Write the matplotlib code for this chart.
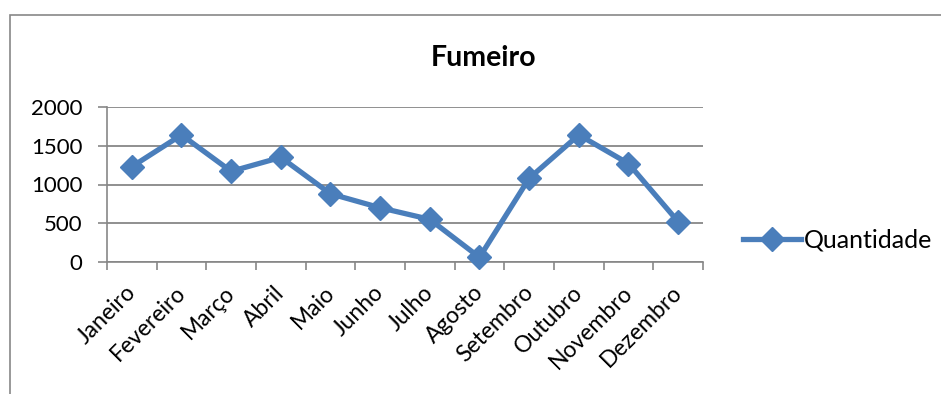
import matplotlib
matplotlib.use("Agg")
import matplotlib.pyplot as plt
from matplotlib.patches import Rectangle
from matplotlib.transforms import ScaledTranslation
import numpy as np

months = ["Janeiro", "Fevereiro", "Março", "Abril", "Maio", "Junho",
          "Julho", "Agosto", "Setembro", "Outubro", "Novembro", "Dezembro"]
quantidade = [1230, 1640, 1170, 1350, 880, 700, 550, 60, 1080, 1640, 1270, 520]
y_ticks = [0, 500, 1000, 1500, 2000]

plt.rcParams["font.family"] = ["Lato", "DejaVu Sans"]

W, H = 941, 394
DPI = 100
fig = plt.figure(figsize=(W / DPI, H / DPI), dpi=DPI)

# chart-area frame
fig.patches.append(Rectangle((10 / W, -0.1), 1.2, 1 - 15 / H + 0.1,
                             transform=fig.transFigure, fill=False,
                             edgecolor="#878787", linewidth=1.2))

ax = fig.add_axes([107 / W, 1 - 262 / H, (703 - 107) / W, (262 - 107) / H])
x = np.arange(len(months))
blue = "#4A7EBB"
ax.plot(x, quantidade, color=blue, linewidth=3.8, marker="D", markersize=12,
        label="Quantidade", zorder=3, clip_on=False)

ax.set_xlim(-0.5, len(months) - 0.5)
ax.set_ylim(0, 2000)
ax.set_yticks(y_ticks)
ax.set_yticklabels([str(v) for v in y_ticks], fontsize=16)
ax.yaxis.grid(True, color="#878787", linewidth=1.3)
ax.set_axisbelow(True)

# category boundaries get the tick marks; names sit at the centres
ax.set_xticks(np.arange(len(months) + 1) - 0.5)
ax.set_xticklabels([])
ax.tick_params(axis="x", length=5.5, width=1.2, color="#878787")
ax.tick_params(axis="y", length=6.5, width=1.2, color="#878787", pad=11)

label_trans = ax.get_xaxis_transform() + ScaledTranslation(
    -7 / DPI, -20 / DPI, fig.dpi_scale_trans)
for xi, name in zip(x, months):
    ax.text(xi, 0, name, transform=label_trans, rotation=45, ha="right",
            va="top", rotation_mode="anchor", fontsize=16.5)

for side in ["top", "right"]:
    ax.spines[side].set_visible(False)
ax.spines["left"].set_color("#878787")
ax.spines["bottom"].set_color("#878787")
ax.spines["left"].set_linewidth(1.2)
ax.spines["bottom"].set_linewidth(1.2)

fig.text(484 / W, 1 - 58 / H, "Fumeiro", ha="center", va="center",
         fontsize=20.5, fontweight="bold")

ax.legend(loc="center left", bbox_to_anchor=(743 / W, 1 - 240 / H),
          bbox_transform=fig.transFigure, frameon=False, fontsize=18,
          handlelength=2.3, handletextpad=0.15, borderaxespad=0,
          borderpad=0)

fig.savefig("out.png", dpi=DPI)
